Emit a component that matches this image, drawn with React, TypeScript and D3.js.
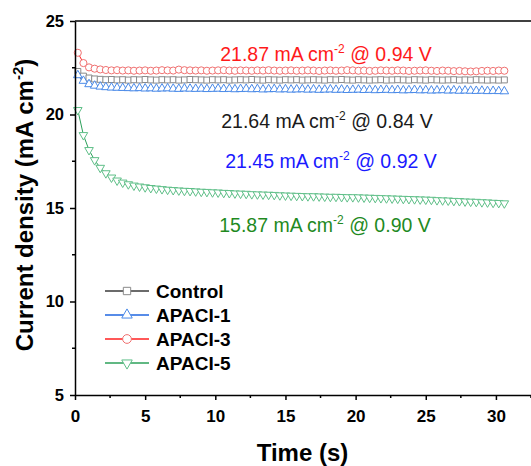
import React, { useRef, useEffect } from 'react';
import * as d3 from 'd3';

// sampled every 0.4 s starting at 0.2 s
const timeStart = 0.2;
const timeStep = 0.4;

const controlValues = [
  22.30, 22.05, 21.95, 21.90, 21.88, 21.86, 21.87, 21.85, 21.86, 21.84,
  21.86, 21.85, 21.87, 21.85, 21.84, 21.86, 21.85, 21.86, 21.84, 21.85,
  21.87, 21.86, 21.85, 21.84, 21.86, 21.85, 21.86, 21.84, 21.85, 21.86,
  21.85, 21.87, 21.85, 21.84, 21.86, 21.85, 21.84, 21.86, 21.85, 21.86,
  21.84, 21.85, 21.86, 21.85, 21.84, 21.86, 21.85, 21.87, 21.85, 21.84,
  21.86, 21.85, 21.84, 21.85, 21.86, 21.84, 21.85, 21.86, 21.85, 21.84,
  21.86, 21.85, 21.84, 21.86, 21.85, 21.84, 21.85, 21.86, 21.84, 21.85,
  21.84, 21.86, 21.85, 21.84, 21.85, 21.84, 21.85
];

const apaci1Values = [
  22.10, 21.80, 21.62, 21.54, 21.49, 21.46, 21.44, 21.43, 21.42, 21.41,
  21.40, 21.41, 21.39, 21.40, 21.38, 21.39, 21.40, 21.38, 21.37, 21.39,
  21.38, 21.37, 21.38, 21.36, 21.37, 21.38, 21.36, 21.37, 21.35, 21.36,
  21.37, 21.35, 21.36, 21.34, 21.35, 21.36, 21.34, 21.35, 21.33, 21.34,
  21.35, 21.33, 21.34, 21.32, 21.33, 21.34, 21.32, 21.33, 21.31, 21.32,
  21.33, 21.31, 21.32, 21.30, 21.31, 21.32, 21.30, 21.31, 21.29, 21.30,
  21.31, 21.29, 21.30, 21.28, 21.29, 21.30, 21.28, 21.29, 21.27, 21.28,
  21.27, 21.26, 21.27, 21.25, 21.26, 21.25, 21.24
];

const apaci3Values = [
  23.30, 22.75, 22.52, 22.45, 22.41, 22.38, 22.36, 22.37, 22.35, 22.36,
  22.34, 22.35, 22.36, 22.34, 22.35, 22.37, 22.36, 22.35, 22.40, 22.37,
  22.36, 22.35, 22.36, 22.34, 22.35, 22.36, 22.37, 22.35, 22.34, 22.36,
  22.35, 22.34, 22.36, 22.35, 22.37, 22.35, 22.34, 22.35, 22.36, 22.34,
  22.35, 22.36, 22.35, 22.33, 22.35, 22.36, 22.34, 22.35, 22.37, 22.36,
  22.34, 22.35, 22.33, 22.34, 22.36, 22.35, 22.34, 22.36, 22.35, 22.33,
  22.34, 22.35, 22.36, 22.34, 22.33, 22.35, 22.34, 22.32, 22.33, 22.31,
  22.30, 22.31, 22.33, 22.34, 22.33, 22.35, 22.34
];

const apaci5Values = [
  20.24, 18.90, 18.10, 17.56, 17.15, 16.86, 16.63, 16.47, 16.36, 16.27,
  16.20, 16.15, 16.11, 16.07, 16.04, 16.01, 15.98, 15.96, 15.94, 15.92,
  15.91, 15.89, 15.87, 15.86, 15.84, 15.83, 15.81, 15.80, 15.78, 15.77,
  15.76, 15.74, 15.73, 15.72, 15.71, 15.70, 15.68, 15.67, 15.66, 15.65,
  15.64, 15.63, 15.63, 15.62, 15.61, 15.60, 15.60, 15.59, 15.58, 15.58,
  15.57, 15.56, 15.55, 15.54, 15.53, 15.52, 15.51, 15.50, 15.49, 15.48,
  15.47, 15.46, 15.45, 15.44, 15.42, 15.41, 15.40, 15.38, 15.37, 15.35,
  15.34, 15.33, 15.31, 15.30, 15.28, 15.27, 15.25
];

const xTicks = [0, 5, 10, 15, 20, 25, 30];
const xMinorTicks = [2.5, 7.5, 12.5, 17.5, 22.5, 27.5, 32.5];
const yTicks = [5, 10, 15, 20, 25];
const yMinorTicks = [7.5, 12.5, 17.5, 22.5];

const seriesNames = ['Control', 'APACI-1', 'APACI-3', 'APACI-5'];

const annotations = [
  { value: '21.87', voltage: '0.94', color: '#ff1a1a', x: 326, y: 61 },
  { value: '21.64', voltage: '0.84', color: '#1a1a1a', x: 327, y: 128 },
  { value: '21.45', voltage: '0.92', color: '#1a1aff', x: 331, y: 168 },
  { value: '15.87', voltage: '0.90', color: '#1f8a1f', x: 325, y: 232 }
];

const W = 531;
const H = 466;

const App = () => {
  const svgRef = useRef(null);

  useEffect(() => {
    const svg = d3.select(svgRef.current);
    svg.selectAll('*').remove();

    const font = '"Liberation Sans", Arial, sans-serif';
    const left = 75, top = 21, bottom = 395, right = 531;

    const x = d3.scaleLinear().domain([0, 32.5]).range([left, right]);
    const y = d3.scaleLinear().domain([5, 25]).range([bottom, top]);

    const times = controlValues.map((_, i) => timeStart + timeStep * i);

    const series = [
      { name: seriesNames[0], values: controlValues, line: '#3a3a3a', marker: '#8a8a8a', symbol: d3.symbolSquare, size: 36, rotate: 0 },
      { name: seriesNames[1], values: apaci1Values, line: '#1f66e0', marker: '#4a8ae8', symbol: d3.symbolTriangle, size: 32, rotate: 0 },
      { name: seriesNames[2], values: apaci3Values, line: '#ff2020', marker: '#f07070', symbol: d3.symbolCircle, size: 40, rotate: 0 },
      { name: seriesNames[3], values: apaci5Values, line: '#2ca05a', marker: '#5fbf88', symbol: d3.symbolTriangle, size: 32, rotate: 180 }
    ];

    const line = d3.line()
      .x((d, i) => x(times[i]))
      .y(d => y(d));

    // data
    series.forEach(s => {
      const g = svg.append('g');
      g.append('path')
        .attr('d', line(s.values))
        .attr('fill', 'none')
        .attr('stroke', s.line)
        .attr('stroke-width', 1);
      g.selectAll('path.pt')
        .data(s.values)
        .enter()
        .append('path')
        .attr('class', 'pt')
        .attr('d', d3.symbol().type(s.symbol).size(s.size)())
        .attr('transform', (d, i) => `translate(${x(times[i])},${y(d)}) rotate(${s.rotate})`)
        .attr('fill', 'white')
        .attr('stroke', s.marker)
        .attr('stroke-width', 1);
    });

    // frame
    svg.append('line')
      .attr('x1', left).attr('x2', right)
      .attr('y1', top).attr('y2', top)
      .attr('stroke', '#000').attr('stroke-width', 1.5);

    const xAxis = svg.append('g')
      .attr('transform', `translate(0,${bottom})`)
      .call(d3.axisBottom(x).tickValues(xTicks).tickSize(5).tickSizeOuter(0).tickPadding(4));
    xAxis.select('.domain').attr('stroke-width', 1.5);
    xAxis.selectAll('.tick line').attr('stroke-width', 1.5);
    xAxis.selectAll('text')
      .attr('font-family', font)
      .attr('font-weight', 'bold')
      .attr('font-size', 17)
      .attr('fill', '#000')
      .attr('y', 27)
      .attr('dy', 0);

    svg.append('g')
      .selectAll('line')
      .data(xMinorTicks)
      .enter()
      .append('line')
      .attr('x1', d => x(d)).attr('x2', d => x(d))
      .attr('y1', bottom).attr('y2', bottom + 3)
      .attr('stroke', '#000').attr('stroke-width', 1.5);

    const yAxis = svg.append('g')
      .attr('transform', `translate(${left},0)`)
      .call(d3.axisLeft(y).tickValues(yTicks).tickSize(5).tickSizeOuter(0).tickPadding(6));
    yAxis.select('.domain').attr('stroke-width', 1.5);
    yAxis.selectAll('.tick line').attr('stroke-width', 1.5);
    yAxis.selectAll('text')
      .attr('font-family', font)
      .attr('font-weight', 'bold')
      .attr('font-size', 16.5)
      .attr('fill', '#000');

    svg.append('g')
      .selectAll('line')
      .data(yMinorTicks)
      .enter()
      .append('line')
      .attr('x1', left - 3).attr('x2', left)
      .attr('y1', d => y(d)).attr('y2', d => y(d))
      .attr('stroke', '#000').attr('stroke-width', 1.5);

    // axis titles
    svg.append('text')
      .attr('x', (257 + 348) / 2)
      .attr('y', 461)
      .attr('text-anchor', 'middle')
      .attr('font-family', font)
      .attr('font-weight', 'bold')
      .attr('font-size', 24)
      .text('Time (s)');

    const yTitle = svg.append('text')
      .attr('transform', 'translate(33,205) rotate(-90)')
      .attr('text-anchor', 'middle')
      .attr('font-family', font)
      .attr('font-weight', 'bold')
      .attr('font-size', 24);
    yTitle.append('tspan').text('Current density (mA cm');
    yTitle.append('tspan').attr('font-size', 15).attr('dy', -10).text('-2');
    yTitle.append('tspan').attr('dy', 10).text(')');

    // annotations
    annotations.forEach(a => {
      const t = svg.append('text')
        .attr('x', a.x)
        .attr('y', a.y)
        .attr('text-anchor', 'middle')
        .attr('font-family', font)
        .attr('font-size', 19.5)
        .attr('fill', a.color);
      t.append('tspan').text(`${a.value} mA cm`);
      t.append('tspan').attr('font-size', 12).attr('dy', -8).text('-2');
      t.append('tspan').attr('dy', 8).text(` @ ${a.voltage} V`);
    });

    // legend
    const legend = svg.append('g');
    series.forEach((s, i) => {
      const cy = 291 + i * 24;
      legend.append('line')
        .attr('x1', 105).attr('x2', 149)
        .attr('y1', cy).attr('y2', cy)
        .attr('stroke', s.line).attr('stroke-width', 1.5);
      legend.append('path')
        .attr('d', d3.symbol().type(s.symbol).size(s.size * 1.5)())
        .attr('transform', `translate(127,${cy}) rotate(${s.rotate})`)
        .attr('fill', 'white')
        .attr('stroke', s.marker)
        .attr('stroke-width', 1);
      legend.append('text')
        .attr('x', 156)
        .attr('y', cy + 7)
        .attr('font-family', font)
        .attr('font-weight', 'bold')
        .attr('font-size', 19)
        .attr('fill', '#000')
        .text(s.name);
    });
  }, []);

  return (
    <svg
      ref={svgRef}
      width={W}
      height={H}
      viewBox={`0 0 ${W} ${H}`}
      style={{ position: 'absolute', left: 0, top: 0, background: 'white', display: 'block' }}
    ></svg>
  );
};

export default App;
